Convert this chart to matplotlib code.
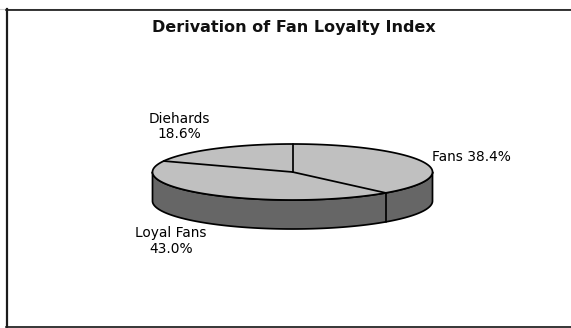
import numpy as np
import matplotlib
matplotlib.use("Agg")
import matplotlib.pyplot as plt
from matplotlib.patches import Polygon

plt.rcParams["font.family"] = ["DejaVu Sans"]

title = "Derivation of Fan Loyalty Index"
segments = ["Fans", "Loyal Fans", "Diehards"]
shares = [38.4, 43.0, 18.6]

W, H = 571, 328
fig = plt.figure(figsize=(W / 100, H / 100), dpi=100, facecolor="white")
ax = fig.add_axes([0, 0, 1, 1])
ax.set_xlim(0, W)
ax.set_ylim(H, 0)
ax.axis("off")

# Chart frame, open towards the right edge of the image
ax.plot([0, W], [8.5, 8.5], color="#cfcfcf", lw=0.8)
ax.plot([6, W], [9.6, 9.6], color="black", lw=1.1)
ax.plot([6, W], [327, 327], color="black", lw=1.1)
ax.plot([7, 7], [9.2, 327.4], color="#1c1c1c", lw=1.6)

ax.text(293.5, 27.5, title, ha="center", va="center", fontsize=11.5, fontweight="bold", color="#111111")

# Tilted pie: an ellipse for the top face and a dark wall below its front half
cx, cy, rx, ry, depth = 292.5, 172, 140, 28, 29
EDGE = 1.25
LINE = dict(color="black", lw=EDGE, solid_capstyle="round", solid_joinstyle="round")


def rim(theta):
    """Point on the top ellipse, theta in radians clockwise from twelve o'clock."""
    return cx + rx * np.sin(theta), cy - ry * np.cos(theta)


t = np.linspace(np.pi / 2, 3 * np.pi / 2, 200)
x, y = rim(t)
wall = np.r_[np.c_[x, y], np.c_[x[::-1], y[::-1] + depth]]
ax.add_patch(Polygon(wall, closed=True, fc="#666666", ec="black", lw=EDGE, joinstyle="round"))

t = np.linspace(0, 2 * np.pi, 400)
x, y = rim(t)
ax.add_patch(Polygon(np.c_[x, y], closed=True, fc="#c0c0c0", ec="black", lw=EDGE))

# Slice boundaries, starting at twelve o'clock and running clockwise
edges = np.r_[0, np.cumsum(shares)] / sum(shares) * 2 * np.pi
for a in edges[:-1]:
    ex, ey = rim(a)
    ax.plot([cx, ex], [cy, ey], **LINE)
    if np.pi / 2 < a < 3 * np.pi / 2:
        ax.plot([ex, ex], [ey, ey + depth], **LINE)

# Data labels
FS = 9.9
LS = 1.13
ax.text(471, 157, f"{segments[0]} {shares[0]:.1f}%", ha="center", va="center", fontsize=FS)
ax.text(171, 241, f"{segments[1]}\n{shares[1]:.1f}%", ha="center", va="center", fontsize=FS, linespacing=LS)
ax.text(179.5, 126.5, f"{segments[2]}\n{shares[2]:.1f}%", ha="center", va="center", fontsize=FS, linespacing=LS)

fig.savefig("out.png", dpi=100, facecolor="white")
